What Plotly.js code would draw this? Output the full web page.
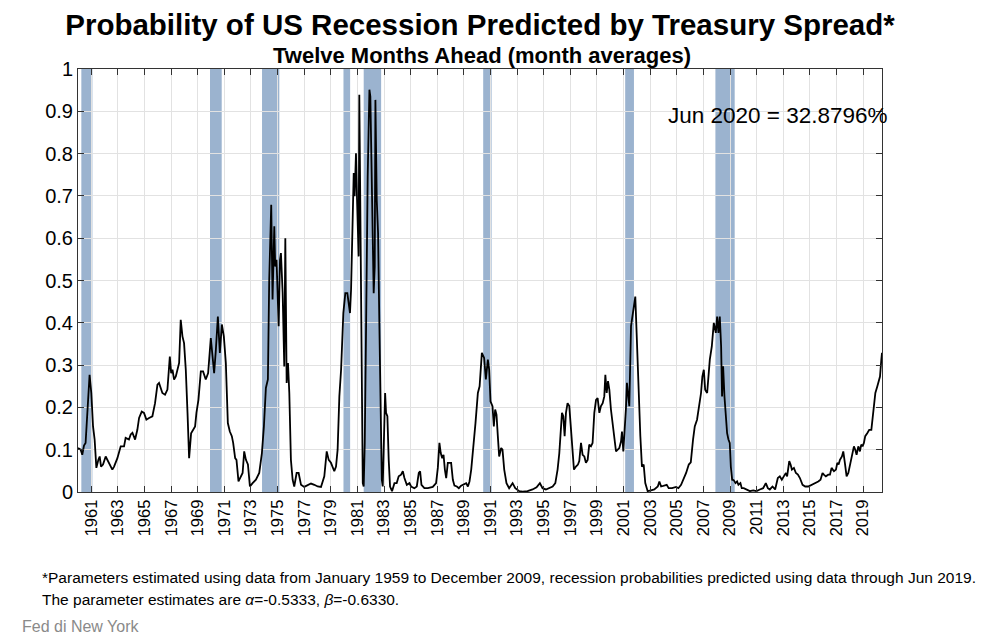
<!DOCTYPE html>
<html>
<head>
<meta charset="utf-8">
<script src="https://cdn.plot.ly/plotly-3.0.1.min.js"></script>
<style>
  html, body { margin: 0; padding: 0; background: #ffffff; }
  #chart { width: 1002px; height: 640px; }
</style>
</head>
<body>
<div id="chart"></div>
<script>
// Month (decimal year) of each reading
const dates = [
  1960.0,1960.2,1960.32,1960.45,1960.57,1960.7,1960.87,1961.0,1961.13,1961.25,1961.38,1961.53,1961.63,1961.73,1961.88,
  1962.08,1962.2,1962.33,1962.58,1962.71,1962.96,1963.21,1963.46,1963.58,1963.83,1963.96,1964.09,1964.29,1964.46,1964.59,
  1964.79,1964.96,1965.14,1965.34,1965.59,1965.79,1965.97,1966.09,1966.34,1966.54,1966.72,1966.9,1967.0,1967.1,1967.22,
  1967.35,1967.47,1967.6,1967.72,1967.85,1967.97,1968.1,1968.23,1968.35,1968.5,1968.65,1968.8,1968.9,1969.05,1969.23,
  1969.4,1969.6,1969.78,1969.98,1970.11,1970.23,1970.36,1970.51,1970.66,1970.81,1970.96,1971.11,1971.26,1971.41,1971.56,
  1971.66,1971.81,1971.91,1972.06,1972.21,1972.37,1972.49,1972.62,1972.77,1972.92,1973.12,1973.37,1973.62,1973.82,1973.97,
  1974.12,1974.27,1974.37,1974.52,1974.62,1974.75,1974.82,1974.92,1975.08,1975.18,1975.25,1975.38,1975.5,1975.58,1975.68,
  1975.78,1975.88,1976.0,1976.13,1976.25,1976.43,1976.58,1976.76,1977.0,1977.26,1977.51,1977.76,1978.01,1978.26,1978.51,
  1978.69,1978.84,1979.01,1979.26,1979.39,1979.51,1979.64,1979.77,1979.94,1980.09,1980.24,1980.34,1980.44,1980.52,1980.64,
  1980.72,1980.79,1980.89,1980.97,1981.04,1981.09,1981.14,1981.22,1981.3,1981.4,1981.47,1981.55,1981.65,1981.77,1981.9,
  1981.97,1982.05,1982.15,1982.22,1982.3,1982.35,1982.45,1982.55,1982.65,1982.75,1982.83,1982.9,1982.98,1983.08,1983.15,
  1983.25,1983.35,1983.45,1983.6,1983.78,1983.95,1984.1,1984.28,1984.41,1984.53,1984.71,1984.91,1985.03,1985.28,1985.46,
  1985.61,1985.71,1985.81,1986.03,1986.29,1986.66,1986.91,1987.04,1987.16,1987.26,1987.37,1987.47,1987.57,1987.67,1987.79,
  1987.92,1988.04,1988.17,1988.29,1988.47,1988.62,1988.79,1988.97,1989.17,1989.3,1989.42,1989.55,1989.72,1989.87,1990.05,
  1990.18,1990.35,1990.52,1990.65,1990.8,1990.9,1991.0,1991.15,1991.25,1991.35,1991.45,1991.55,1991.65,1991.8,1991.9,
  1992.03,1992.2,1992.4,1992.66,1992.86,1993.16,1993.41,1993.78,1994.16,1994.46,1994.71,1994.91,1995.16,1995.41,1995.67,
  1995.87,1996.04,1996.17,1996.29,1996.37,1996.47,1996.57,1996.67,1996.79,1996.92,1997.02,1997.12,1997.27,1997.42,1997.57,
  1997.67,1997.8,1997.92,1998.05,1998.17,1998.3,1998.42,1998.55,1998.67,1998.8,1998.93,1999.05,1999.18,1999.3,1999.43,
  1999.55,1999.63,1999.73,1999.83,1999.93,2000.05,2000.18,2000.31,2000.43,2000.56,2000.68,2000.81,2000.88,2000.98,2001.08,
  2001.18,2001.25,2001.33,2001.43,2001.56,2001.68,2001.78,2001.88,2001.98,2002.13,2002.26,2002.38,2002.51,2002.63,2002.81,
  2003.06,2003.31,2003.57,2003.69,2003.82,2004.07,2004.24,2004.39,2004.64,2004.95,2005.12,2005.32,2005.5,2005.7,2005.9,
  2006.05,2006.22,2006.35,2006.52,2006.67,2006.82,2006.92,2007.03,2007.13,2007.28,2007.48,2007.63,2007.78,2007.93,2008.03,
  2008.13,2008.23,2008.33,2008.4,2008.48,2008.58,2008.68,2008.78,2008.88,2008.98,2009.06,2009.16,2009.28,2009.41,2009.53,
  2009.63,2009.78,2009.88,2010.03,2010.23,2010.49,2010.74,2010.99,2011.24,2011.49,2011.69,2011.84,2011.99,2012.19,2012.39,
  2012.59,2012.74,2012.89,2013.04,2013.2,2013.29,2013.45,2013.55,2013.65,2013.8,2013.95,2014.1,2014.25,2014.45,2014.65,
  2014.88,2015.13,2015.38,2015.63,2015.8,2015.95,2016.05,2016.2,2016.38,2016.51,2016.63,2016.81,2016.96,2017.06,2017.16,
  2017.26,2017.41,2017.51,2017.63,2017.76,2017.89,2018.01,2018.11,2018.21,2018.31,2018.41,2018.51,2018.64,2018.76,2018.86,
  2018.96,2019.06,2019.16,2019.31,2019.46,2019.62,2019.72,2019.82,2019.92,2020.07,2020.17,2020.27,2020.37,2020.42
];

// Predicted probability of recession twelve months ahead
const prob = [
  0.104,0.100,0.088,0.110,0.116,0.195,0.277,0.234,0.155,0.124,0.057,0.076,0.084,0.060,0.065,
  0.084,0.076,0.069,0.053,0.060,0.080,0.108,0.108,0.128,0.124,0.136,0.140,0.124,0.147,0.175,
  0.190,0.187,0.171,0.175,0.179,0.210,0.254,0.258,0.234,0.230,0.242,0.320,0.281,0.289,0.266,
  0.273,0.289,0.305,0.407,0.368,0.352,0.289,0.187,0.080,0.139,0.147,0.155,0.187,0.218,0.285,
  0.285,0.266,0.281,0.364,0.313,0.281,0.336,0.415,0.329,0.396,0.368,0.305,0.163,0.143,0.132,
  0.116,0.080,0.076,0.025,0.033,0.045,0.096,0.076,0.065,0.013,0.021,0.029,0.045,0.092,0.155,
  0.246,0.266,0.502,0.679,0.455,0.628,0.533,0.549,0.392,0.549,0.565,0.470,0.297,0.600,0.258,
  0.305,0.234,0.076,0.029,0.013,0.045,0.045,0.017,0.012,0.017,0.020,0.017,0.013,0.012,0.037,
  0.096,0.076,0.069,0.049,0.060,0.100,0.226,0.289,0.423,0.470,0.470,0.439,0.423,0.478,0.612,
  0.754,0.699,0.801,0.691,0.581,0.557,0.939,0.628,0.195,0.021,0.013,0.116,0.392,0.746,0.951,
  0.935,0.786,0.612,0.470,0.533,0.927,0.691,0.612,0.392,0.116,0.029,0.013,0.116,0.234,0.187,
  0.179,0.076,0.013,0.002,0.021,0.021,0.037,0.041,0.049,0.033,0.017,0.021,0.013,0.009,0.013,
  0.045,0.049,0.017,0.009,0.009,0.012,0.021,0.057,0.116,0.092,0.080,0.088,0.053,0.033,0.069,
  0.069,0.069,0.029,0.015,0.013,0.009,0.015,0.017,0.021,0.013,0.025,0.053,0.108,0.163,0.234,
  0.250,0.329,0.317,0.266,0.313,0.289,0.214,0.203,0.155,0.195,0.183,0.132,0.084,0.104,0.100,
  0.053,0.021,0.009,0.021,0.009,0.002,0.001,0.002,0.006,0.011,0.021,0.009,0.006,0.009,0.013,
  0.021,0.053,0.092,0.163,0.187,0.179,0.132,0.187,0.210,0.203,0.155,0.100,0.053,0.060,0.065,
  0.073,0.116,0.088,0.084,0.069,0.076,0.112,0.108,0.116,0.187,0.218,0.222,0.187,0.203,0.210,
  0.226,0.277,0.234,0.262,0.242,0.195,0.163,0.132,0.096,0.100,0.104,0.120,0.143,0.096,0.139,
  0.199,0.258,0.234,0.203,0.392,0.415,0.439,0.462,0.376,0.234,0.132,0.060,0.065,0.021,0.002,
  0.004,0.006,0.013,0.025,0.013,0.015,0.017,0.009,0.009,0.012,0.009,0.017,0.029,0.045,0.065,
  0.070,0.124,0.155,0.171,0.203,0.234,0.273,0.289,0.242,0.234,0.313,0.344,0.400,0.376,0.415,
  0.376,0.415,0.344,0.226,0.297,0.226,0.187,0.139,0.124,0.116,0.060,0.029,0.028,0.021,0.025,
  0.017,0.021,0.009,0.009,0.006,0.002,0.004,0.002,0.006,0.009,0.021,0.009,0.006,0.013,0.006,
  0.033,0.037,0.029,0.037,0.045,0.037,0.073,0.065,0.053,0.057,0.045,0.041,0.033,0.017,0.013,
  0.013,0.017,0.020,0.025,0.029,0.045,0.041,0.037,0.041,0.041,0.057,0.049,0.053,0.069,0.065,
  0.076,0.084,0.096,0.069,0.037,0.045,0.065,0.084,0.092,0.108,0.100,0.088,0.108,0.096,0.112,
  0.108,0.116,0.132,0.139,0.147,0.147,0.179,0.210,0.234,0.250,0.266,0.273,0.313,0.329
];

// NBER recessions (peak, trough) in decimal years
const recessionStart = [1960.25, 1969.92, 1973.83, 1979.95, 1981.47, 1990.45, 2001.12, 2007.90];
const recessionEnd   = [1961.08, 1970.80, 1975.13, 1980.45, 1982.78, 1991.08, 2001.78, 2009.35];

// Axis tick labels
const yearTicks = [1961,1963,1965,1967,1969,1971,1973,1975,1977,1979,1981,1983,1985,1987,1989,
                   1991,1993,1995,1997,1999,2001,2003,2005,2007,2009,2011,2013,2015,2017,2019];
const yTicks = [0,0.1,0.2,0.3,0.4,0.5,0.6,0.7,0.8,0.9,1];

const FONT = 'Liberation Sans, Arial, Helvetica, sans-serif';

const shapes = recessionStart.map((s, i) => ({
  type: 'rect', xref: 'x', yref: 'paper',
  x0: s, x1: recessionEnd[i], y0: 0, y1: 1,
  fillcolor: '#9bb3cf', line: {width: 0}, layer: 'below'
}));

const trace = {
  x: dates, y: prob, type: 'scatter', mode: 'lines',
  line: {color: '#000000', width: 1.8},
  hoverinfo: 'x+y'
};

const layout = {
  width: 1002, height: 640,
  margin: {l: 78, r: 120, t: 69, b: 148},
  paper_bgcolor: '#ffffff', plot_bgcolor: '#ffffff',
  font: {family: FONT, color: '#000000'},
  showlegend: false,
  title: {
    text: '<b>Probability of US Recession Predicted by Treasury Spread*</b>',
    font: {size: 29.5, family: FONT, color: '#000000'},
    x: 0.5, xref: 'paper', xanchor: 'center',
    y: 0.962, yref: 'container', yanchor: 'middle'
  },
  xaxis: {
    range: [1960, 2020.42],
    tickmode: 'array', tickvals: yearTicks, ticktext: yearTicks.map(String),
    tickangle: -90,
    tickfont: {size: 16.5, family: FONT, color: '#000000'},
    ticks: 'inside', ticklen: 6, tickcolor: '#333333', tickwidth: 1,
    showline: true, linecolor: '#333333', linewidth: 1, mirror: 'ticks',
    showgrid: true, gridcolor: '#e2e2e2', gridwidth: 1,
    zeroline: false
  },
  yaxis: {
    range: [0, 1],
    tickmode: 'array', tickvals: yTicks, ticktext: yTicks.map(String),
    tickfont: {size: 20, family: FONT, color: '#000000'},
    ticks: 'inside', ticklen: 6, tickcolor: '#333333', tickwidth: 1,
    showline: true, linecolor: '#333333', linewidth: 1, mirror: 'ticks',
    showgrid: true, gridcolor: '#e2e2e2', gridwidth: 1,
    zeroline: false
  },
  shapes: shapes,
  annotations: [
    {
      text: '<b>Twelve Months Ahead (month averages)</b>',
      xref: 'paper', yref: 'paper', x: 0.502, y: 1.033,
      xanchor: 'center', yanchor: 'middle', showarrow: false,
      font: {size: 22, family: FONT, color: '#000000'}
    },
    {
      text: 'Jun 2020 = 32.8796%',
      xref: 'paper', yref: 'paper', x: 1.01, y: 0.891,
      xanchor: 'right', yanchor: 'middle', showarrow: false,
      font: {size: 22.5, family: FONT, color: '#000000'}
    },
    {
      text: '*Parameters estimated using data from January 1959 to December 2009, recession probabilities predicted using data through Jun 2019.',
      xref: 'paper', yref: 'paper', x: -0.0473, y: -0.2033,
      xanchor: 'left', yanchor: 'middle', showarrow: false,
      font: {size: 15.5, family: FONT, color: '#000000'}
    },
    {
      text: 'The parameter estimates are <i>α</i>=-0.5333, <i>β</i>=-0.6330.',
      xref: 'paper', yref: 'paper', x: -0.0473, y: -0.2553,
      xanchor: 'left', yanchor: 'middle', showarrow: false,
      font: {size: 15.5, family: FONT, color: '#000000'}
    },
    {
      text: 'Fed di New York',
      xref: 'paper', yref: 'paper', x: -0.0721, y: -0.319,
      xanchor: 'left', yanchor: 'middle', showarrow: false,
      font: {size: 16, family: FONT, color: '#8a8a8a'}
    }
  ]
};

Plotly.newPlot('chart', [trace], layout, {displayModeBar: false, staticPlot: true});
</script>
</body>
</html>
